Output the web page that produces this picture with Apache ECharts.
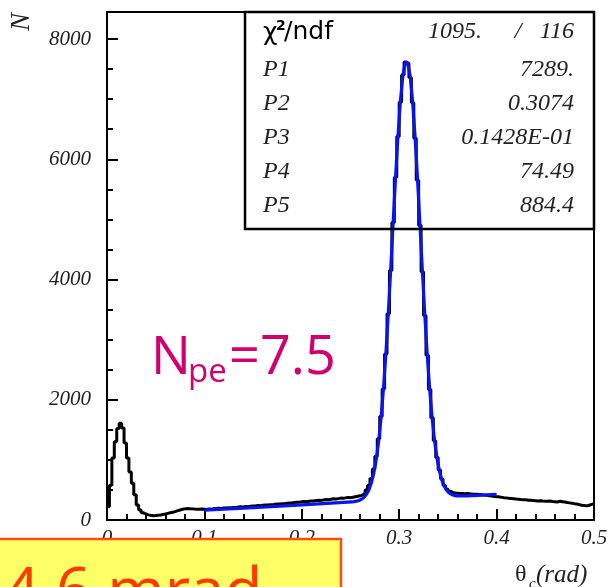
<!DOCTYPE html>
<html>
<head>
<meta charset="utf-8">
<script src="https://cdn.jsdelivr.net/npm/echarts/dist/echarts.min.js"></script>
<style>
html,body{margin:0;padding:0;background:#fff;}
#chart{width:611px;height:587px;}
</style>
</head>
<body>
<div id="chart"></div>
<script>
// Histogram: 200 bins of width 0.0025 rad from 0 to 0.5
const binWidth = 0.0025;
const xStart = 0;
const counts = [
  220, 580, 1030, 1300, 1520, 1610, 1530, 1280, 1030, 800,
  610, 420, 250, 165, 120, 100, 85, 78, 72, 74,
  80, 84, 92, 100, 110, 120, 130, 140, 155, 165,
  178, 185, 190, 188, 185, 182, 180, 178, 182, 180,
  175, 185, 180, 190, 188, 195, 192, 200, 198, 205,
  202, 210, 208, 215, 220, 218, 225, 222, 230, 235,
  232, 240, 238, 245, 250, 248, 255, 252, 262, 268,
  265, 272, 270, 278, 284, 282, 290, 296, 294, 302,
  306, 304, 312, 318, 316, 324, 328, 326, 334, 340,
  338, 346, 352, 348, 356, 364, 360, 368, 376, 372,
  380, 388, 395, 402, 415, 445, 500, 580, 690, 850,
  1060, 1350, 1720, 2180, 2760, 3430, 4150, 4950, 5700, 6380,
  6950, 7400, 7620, 7590, 7360, 6940, 6350, 5650, 4900, 4130,
  3400, 2740, 2170, 1700, 1320, 1040, 830, 680, 580, 515,
  480, 460, 450, 445, 440, 442, 438, 440, 435, 432,
  430, 428, 425, 420, 415, 410, 405, 398, 392, 388,
  385, 378, 372, 368, 360, 356, 352, 348, 345, 340,
  338, 335, 330, 328, 325, 322, 318, 320, 315, 312,
  310, 315, 308, 305, 300, 312, 305, 298, 290, 285,
  280, 272, 265, 255, 245, 240, 235, 245, 260, 265
];

// Fit curve (blue)
const fitX = [0.1, 0.15, 0.2, 0.25125, 0.25375, 0.25625, 0.25875, 0.26125, 0.26375, 0.26625, 0.26875, 0.27125, 0.27375, 0.27625, 0.27875, 0.28125, 0.28375, 0.28625, 0.28875, 0.29125, 0.29375, 0.29625, 0.29875, 0.30125, 0.30375, 0.30625, 0.3075, 0.30875, 0.31125, 0.31375, 0.31625, 0.31875, 0.32125, 0.32375, 0.32625, 0.32875, 0.33125, 0.33375, 0.33625, 0.33875, 0.34125, 0.34375, 0.34625, 0.34875, 0.35125, 0.35375, 0.35625, 0.35875, 0.3625, 0.37, 0.38, 0.39, 0.40];
const fitY = [163, 207, 251, 300, 305, 313, 325, 345, 375, 424, 497, 607, 767, 989, 1287, 1677, 2163, 2748, 3421, 4159, 4932, 5694, 6390, 6973, 7391, 7608, 7635, 7607, 7385, 6965, 6383, 5686, 4929, 4162, 3425, 2760, 2184, 1707, 1325, 1034, 819, 666, 563, 494, 451, 425, 410, 402, 400, 402, 411, 419, 428];

// Tick labels
const xTickLabels = ['0', '0.1', '0.2', '0.3', '0.4', '0.5'];
const yTickLabels = ['0', '2000', '4000', '6000', '8000'];

// Stats box
const statNames = ['P1', 'P2', 'P3', 'P4', 'P5'];
const statValues = ['7289.', '0.3074', '0.1428E-01', '74.49', '884.4'];
const chi2 = '1095.';
const ndf = '116';

const histData = counts.map((c, i) => [xStart + i * binWidth, c]);
histData.push([xStart + counts.length * binWidth, counts[counts.length - 1]]);
const fitData = fitX.map((x, i) => [x, fitY[i]]);

const serif = "'Liberation Serif', 'Times New Roman', serif";
const labelStyle = {fontFamily: serif, fontStyle: 'italic', fontSize: 21, color: '#222'};

const chart = echarts.init(document.getElementById('chart'), null, {renderer: 'canvas'});

const graphics = [];
// y-axis title N
graphics.push({type: 'text', x: 22, y: 22, rotation: Math.PI / 2, z: 100,
  style: {text: 'N', font: "italic 27px " + serif, fill: '#222', align: 'center', verticalAlign: 'middle'}});
// x-axis title
graphics.push({type: 'text', x: 515, y: 575, z: 100,
  style: {text: 'θ', font: "24px " + serif, fill: '#222', align: 'left', verticalAlign: 'middle'}});
graphics.push({type: 'text', x: 529, y: 584, z: 100,
  style: {text: 'c', font: "italic 15px " + serif, fill: '#222', align: 'left', verticalAlign: 'middle'}});
graphics.push({type: 'text', x: 536, y: 575, z: 100,
  style: {text: '(rad)', font: "italic 25px " + serif, fill: '#222', align: 'left', verticalAlign: 'middle'}});
// stats box
graphics.push({type: 'rect', z: 90, shape: {x: 245, y: 12, width: 349, height: 217},
  style: {fill: 'none', stroke: '#000', lineWidth: 2.5}});
graphics.push({type: 'text', x: 263, y: 33, z: 100,
  style: {text: 'χ', font: "25px 'DejaVu Sans', sans-serif", fill: '#000', align: 'left', verticalAlign: 'middle'}});
graphics.push({type: 'text', x: 276, y: 26, z: 100,
  style: {text: '2', font: "bold 14px 'DejaVu Sans', sans-serif", fill: '#000', align: 'left', verticalAlign: 'middle'}});
graphics.push({type: 'text', x: 284, y: 32, z: 100,
  style: {text: '/ndf', font: "25px 'DejaVu Sans', sans-serif", fill: '#000', align: 'left', verticalAlign: 'middle'}});
graphics.push({type: 'text', x: 428, y: 32, z: 100,
  style: {text: chi2, font: "italic 24px " + serif, fill: '#222', align: 'left', verticalAlign: 'middle'}});
graphics.push({type: 'text', x: 518, y: 32, z: 100,
  style: {text: '/', font: "italic 24px " + serif, fill: '#222', align: 'center', verticalAlign: 'middle'}});
graphics.push({type: 'text', x: 574, y: 32, z: 100,
  style: {text: ndf, font: "italic 24px " + serif, fill: '#222', align: 'right', verticalAlign: 'middle'}});
const rowY = [70, 104, 138, 172, 206];
statNames.forEach((n, i) => {
  graphics.push({type: 'text', x: 263, y: rowY[i], z: 100,
    style: {text: n, font: "italic 24px " + serif, fill: '#222', align: 'left', verticalAlign: 'middle'}});
  graphics.push({type: 'text', x: 574, y: rowY[i], z: 100,
    style: {text: statValues[i], font: "italic 24px " + serif, fill: '#222', align: 'right', verticalAlign: 'middle'}});
});
// Npe annotation
const mag = '#D1006F';
graphics.push({type: 'text', x: 151, y: 359, z: 100,
  style: {text: 'N', font: "53px 'Open Sans', sans-serif", fill: mag, align: 'left', verticalAlign: 'middle'}});
graphics.push({type: 'text', x: 188, y: 373, z: 100,
  style: {text: 'pe', font: "33px 'Open Sans', sans-serif", fill: mag, align: 'left', verticalAlign: 'middle'}});
graphics.push({type: 'text', x: 229, y: 359, z: 100,
  style: {text: '=7.5', font: "54px 'Open Sans', sans-serif", fill: mag, align: 'left', verticalAlign: 'middle'}});
// yellow box
graphics.push({type: 'rect', z: 110, shape: {x: -5, y: 539, width: 346, height: 60},
  style: {fill: '#FFFF66', stroke: '#FF4A10', lineWidth: 2.5}});
graphics.push({type: 'text', x: 4, y: 594, z: 111,
  style: {text: '4.6 mrad', font: "62px 'Open Sans', sans-serif", fill: '#FF3A00', align: 'left', verticalAlign: 'middle'}});

const axisBlack = {color: '#000', width: 2};
const option = {
  backgroundColor: '#fff',
  animation: false,
  grid: {left: 107, right: 17, top: 12, bottom: 67, show: true, borderColor: '#000', borderWidth: 2, backgroundColor: 'transparent'},
  xAxis: [{
    type: 'value', min: 0, max: 0.5, interval: 0.1,
    axisLine: {show: true, onZero: false, lineStyle: axisBlack},
    axisTick: {show: true, inside: true, length: 11, lineStyle: axisBlack},
    axisLabel: Object.assign({margin: 8, formatter: v => {
      const idx = Math.round(v / 0.1);
      return Math.abs(v - idx * 0.1) < 1e-9 ? xTickLabels[idx] : '';
    }}, labelStyle),
    splitLine: {show: false}
  }, {
    type: 'value', min: 0, max: 0.5, interval: 0.02, position: 'bottom',
    axisLine: {show: false, onZero: false},
    axisTick: {show: true, inside: true, length: 6, lineStyle: axisBlack},
    axisLabel: {show: false},
    splitLine: {show: false}
  }],
  yAxis: [{
    type: 'value', min: 0, max: 8450, interval: 2000,
    axisLine: {show: true, onZero: false, lineStyle: axisBlack},
    axisTick: {show: true, inside: true, length: 11, lineStyle: axisBlack},
    axisLabel: Object.assign({margin: 16, formatter: v => (v % 2000 === 0 ? yTickLabels[v / 2000] : '')}, labelStyle),
    splitLine: {show: false}
  }, {
    type: 'value', min: 0, max: 8450, interval: 500, position: 'left',
    axisLine: {show: false, onZero: false},
    axisTick: {show: true, inside: true, length: 6, lineStyle: axisBlack},
    axisLabel: {show: false},
    splitLine: {show: false}
  }],
  series: [{
    type: 'line', name: 'hist', data: histData, step: 'end', xAxisIndex: 0, yAxisIndex: 0,
    symbol: 'none', lineStyle: {color: '#000', width: 3}, z: 3
  }, {
    type: 'line', name: 'fit', data: fitData, xAxisIndex: 0, yAxisIndex: 0,
    symbol: 'none', lineStyle: {color: '#0A14F0', width: 3.2}, z: 4
  }],
  graphic: graphics
};
chart.setOption(option);
</script>
</body>
</html>
